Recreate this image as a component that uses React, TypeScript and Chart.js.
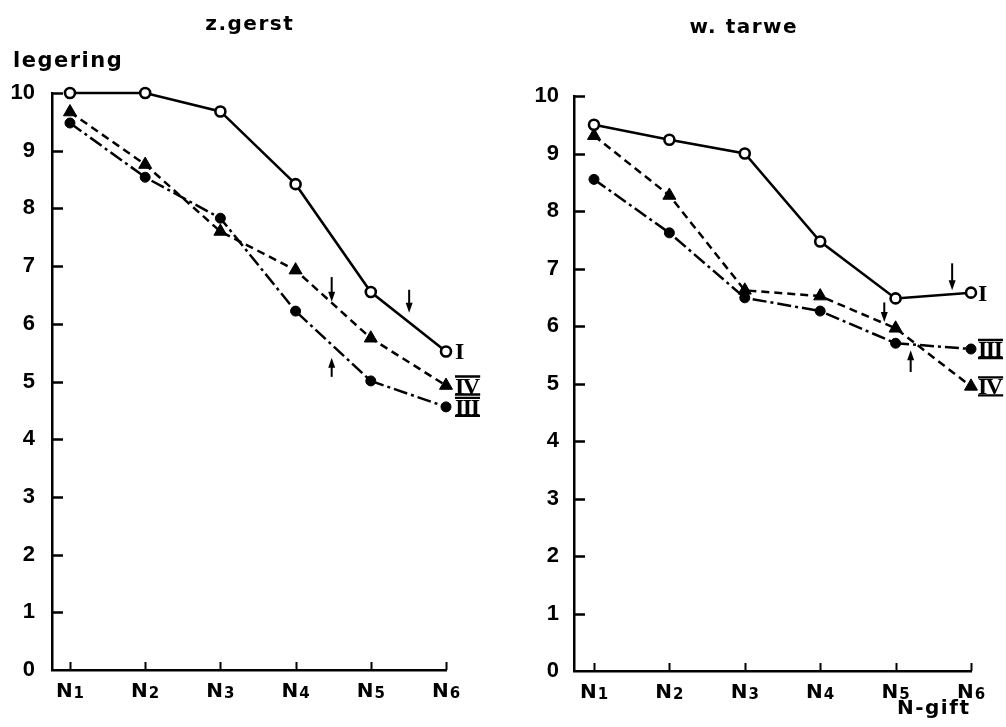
import React, { useEffect, useRef } from "react";
import { Chart, registerables } from "chart.js";

Chart.register(...registerables);

// N-gift levels on the x axis (drawn as N with a subscript digit)
const nLevels = ["N1", "N2", "N3", "N4", "N5", "N6"];
// legering score ticks
const yTicks = [0, 1, 2, 3, 4, 5, 6, 7, 8, 9, 10];
const seriesNames = ["I", "IV", "III"];

// z.gerst
const gerstI = [10.0, 10.0, 9.68, 8.42, 6.55, 5.52];
const gerstIV = [9.67, 8.76, 7.6, 6.93, 5.75, 4.93];
const gerstIII = [9.48, 8.54, 7.83, 6.22, 5.01, 4.56];
// arrows: x position (N index), start and end of the shaft (tip at "to")
const gerstArrowX = [3.48, 4.51, 3.48];
const gerstArrowFrom = [6.81, 6.59, 5.08];
const gerstArrowTo = [6.38, 6.19, 5.41];

// w. tarwe
const tarweI = [9.5, 9.24, 9.0, 7.47, 6.48, 6.58];
const tarweIV = [9.31, 8.27, 6.62, 6.52, 5.96, 4.95];
const tarweIII = [8.55, 7.62, 6.49, 6.26, 5.7, 5.6];
const tarweArrowX = [4.75, 3.85, 4.2];
const tarweArrowFrom = [7.09, 6.41, 5.2];
const tarweArrowTo = [6.62, 6.07, 5.58];

const W = 503;
const H = 727;

type Panel = {
  title: string;
  titleX: number;
  titleY: number;
  series: number[][];
  arrowX: number[];
  arrowFrom: number[];
  arrowTo: number[];
  xMin: number;
  padTop: number;
  padRight: number;
  axisW: number;
  axisH: number;
  labelPad: number;
  nameOffset: number;
  yLabel?: boolean;
  xLabel?: boolean;
};

const panels: Panel[] = [
  {
    title: "z.gerst",
    titleX: 249,
    titleY: 30,
    series: [gerstI, gerstIV, gerstIII],
    arrowX: gerstArrowX,
    arrowFrom: gerstArrowFrom,
    arrowTo: gerstArrowTo,
    xMin: -0.239,
    padTop: 93,
    padRight: W - 446,
    axisW: 52,
    axisH: H - 670,
    labelPad: 9,
    nameOffset: 9,
    yLabel: true,
  },
  {
    title: "w. tarwe",
    titleX: 240,
    titleY: 33,
    series: [tarweI, tarweIV, tarweIII],
    arrowX: tarweArrowX,
    arrowFrom: tarweArrowFrom,
    arrowTo: tarweArrowTo,
    xMin: -0.265,
    padTop: 96,
    padRight: W - 468,
    axisW: 71,
    axisH: H - 671,
    labelPad: 7,
    nameOffset: 7,
    xLabel: true,
  },
];

const TEXT_FONT = "DejaVu Sans";

function spacedText(ctx: CanvasRenderingContext2D, text: string, x: number, y: number, spacing: number, align: "left" | "center") {
  (ctx as any).letterSpacing = spacing + "px";
  const w = ctx.measureText(text).width - spacing;
  const startX = align === "center" ? x - w / 2 : x;
  ctx.textAlign = "left";
  ctx.fillText(text, startX, y);
  (ctx as any).letterSpacing = "0px";
}

function drawRoman(ctx: CanvasRenderingContext2D, label: string, x: number, y: number) {
  ctx.save();
  ctx.font = "bold 24px 'Liberation Serif'";
  ctx.textAlign = "left";
  ctx.textBaseline = "alphabetic";
  const capH = 16;
  const spacing = label.length > 1 ? -1.5 : 0;
  (ctx as any).letterSpacing = spacing + "px";
  const w = ctx.measureText(label).width - spacing;
  ctx.fillStyle = "#000";
  ctx.fillText(label, x, y + capH / 2);
  if (label.length > 1) {
    ctx.lineWidth = 2.4;
    ctx.strokeStyle = "#000";
    ctx.beginPath();
    ctx.moveTo(x, y - capH / 2 - 1);
    ctx.lineTo(x + w, y - capH / 2 - 1);
    ctx.moveTo(x, y + capH / 2 + 1);
    ctx.lineTo(x + w, y + capH / 2 + 1);
    ctx.stroke();
  }
  ctx.restore();
}

function drawArrow(ctx: CanvasRenderingContext2D, x: number, y0: number, y1: number) {
  const dir = y1 > y0 ? 1 : -1;
  ctx.save();
  ctx.strokeStyle = "#000";
  ctx.fillStyle = "#000";
  ctx.lineWidth = 2;
  ctx.beginPath();
  ctx.moveTo(x, y0);
  ctx.lineTo(x, y1 - dir * 6);
  ctx.stroke();
  ctx.beginPath();
  ctx.moveTo(x, y1);
  ctx.lineTo(x - 3.5, y1 - dir * 10);
  ctx.lineTo(x + 3.5, y1 - dir * 10);
  ctx.closePath();
  ctx.fill();
  ctx.restore();
}

function makeDecor(panel: Panel) {
  return {
    id: "panelDecor",
    afterDraw(chart: Chart) {
      const ctx = chart.ctx;
      const xs = chart.scales.x;
      const ys = chart.scales.y;
      const area = chart.chartArea;
      ctx.save();
      ctx.strokeStyle = "#000";
      ctx.fillStyle = "#000";
      ctx.lineWidth = 2.5;
      ctx.lineCap = "butt";

      // inward tick marks on the y axis
      ctx.beginPath();
      yTicks.forEach((v) => {
        if (v === 0) return;
        const y = Math.round(ys.getPixelForValue(v)) + 0.5;
        ctx.moveTo(area.left, y);
        ctx.lineTo(area.left + 11, y);
      });
      ctx.stroke();

      // short upward ticks at each N level
      ctx.lineWidth = 2;
      ctx.beginPath();
      nLevels.forEach((_, i) => {
        const x = Math.round(xs.getPixelForValue(i)) + 0.5;
        ctx.moveTo(x, area.bottom);
        ctx.lineTo(x, area.bottom - 8);
      });
      ctx.stroke();

      // N labels with subscript digit
      ctx.textBaseline = "alphabetic";
      nLevels.forEach((lab, i) => {
        const x = xs.getPixelForValue(i);
        const base = lab.slice(0, 1);
        const sub = lab.slice(1);
        ctx.font = `bold 20px '${TEXT_FONT}'`;
        const wb = ctx.measureText(base).width;
        ctx.font = `bold 15px '${TEXT_FONT}'`;
        const ws = ctx.measureText(sub).width;
        const start = x - (wb + ws + 1) / 2;
        const by = area.bottom + 27;
        ctx.font = `bold 20px '${TEXT_FONT}'`;
        ctx.textAlign = "left";
        ctx.fillText(base, start, by);
        ctx.font = `bold 15px '${TEXT_FONT}'`;
        ctx.fillText(sub, start + wb + 1, by + 1);
      });

      // arrows
      panel.arrowX.forEach((ax, i) => {
        drawArrow(ctx, xs.getPixelForValue(ax), ys.getPixelForValue(panel.arrowFrom[i]), ys.getPixelForValue(panel.arrowTo[i]));
      });

      // series names after the last point
      panel.series.forEach((vals, i) => {
        const last = vals.length - 1;
        drawRoman(ctx, seriesNames[i], xs.getPixelForValue(last) + panel.nameOffset, ys.getPixelForValue(vals[last]));
      });

      // panel title
      ctx.font = `bold 20px '${TEXT_FONT}'`;
      ctx.textBaseline = "alphabetic";
      spacedText(ctx, panel.title, panel.titleX, panel.titleY, 1.5, "center");

      if (panel.yLabel) {
        ctx.font = `bold 21px '${TEXT_FONT}'`;
        spacedText(ctx, "legering", 13, 67, 1.5, "left");
      }
      if (panel.xLabel) {
        ctx.font = `bold 20px '${TEXT_FONT}'`;
        spacedText(ctx, "N-gift", 394, 714, 1.5, "left");
      }
      ctx.restore();
    },
  };
}

function buildChart(canvas: HTMLCanvasElement, panel: Panel) {
  const styles = [
    { dash: [] as number[], pointStyle: "circle", radius: 5, bg: "#fff", bw: 2.6 },
    { dash: [8, 5], pointStyle: "triangle", radius: 7.5, bg: "#000", bw: 1 },
    { dash: [14, 4, 3, 4], pointStyle: "circle", radius: 5, bg: "#000", bw: 1 },
  ];
  const datasets = panel.series.map((vals, i) => ({
    label: seriesNames[i],
    data: vals.map((v, k) => ({ x: k, y: v })),
    borderColor: "#000",
    borderWidth: 2.5,
    borderDash: styles[i].dash,
    tension: 0,
    clip: false as any,
    pointStyle: styles[i].pointStyle as any,
    pointRadius: styles[i].radius,
    pointBackgroundColor: styles[i].bg,
    pointBorderColor: "#000",
    pointBorderWidth: styles[i].bw,
  }));

  return new Chart(canvas, {
    type: "line",
    data: { datasets },
    options: {
      responsive: false,
      animation: false,
      devicePixelRatio: 1,
      layout: { padding: { top: panel.padTop, right: panel.padRight, bottom: 0, left: 0 } },
      plugins: { legend: { display: false }, tooltip: { enabled: false } },
      scales: {
        x: {
          type: "linear",
          min: panel.xMin,
          max: nLevels.length - 1,
          grid: { display: false },
          border: { display: true, color: "#000", width: 2.5 },
          ticks: { display: false },
          afterFit: (s: any) => {
            s.height = panel.axisH;
          },
        },
        y: {
          min: 0,
          max: 10,
          grid: { display: false },
          border: { display: true, color: "#000", width: 2.5 },
          afterBuildTicks: (s: any) => {
            s.ticks = yTicks.map((v) => ({ value: v }));
          },
          ticks: {
            autoSkip: false,
            color: "#000",
            padding: panel.labelPad,
            font: { family: "Liberation Sans", size: 22, weight: "bold" },
          },
          afterFit: (s: any) => {
            s.width = panel.axisW;
          },
        },
      },
    },
    plugins: [makeDecor(panel)],
  });
}

function PanelChart({ panel, left }: { panel: Panel; left: number }) {
  const ref = useRef<HTMLCanvasElement>(null);
  useEffect(() => {
    if (!ref.current) return;
    const chart = buildChart(ref.current, panel);
    return () => chart.destroy();
  }, [panel]);
  return (
    <canvas
      ref={ref}
      width={W}
      height={H}
      style={{ position: "absolute", left, top: 0, width: W, height: H }}
    />
  );
}

export default function App() {
  return (
    <div style={{ position: "absolute", left: 0, top: 0, width: 1006, height: 727, background: "#fff" }}>
      <PanelChart panel={panels[0]} left={0} />
      <PanelChart panel={panels[1]} left={W} />
    </div>
  );
}
